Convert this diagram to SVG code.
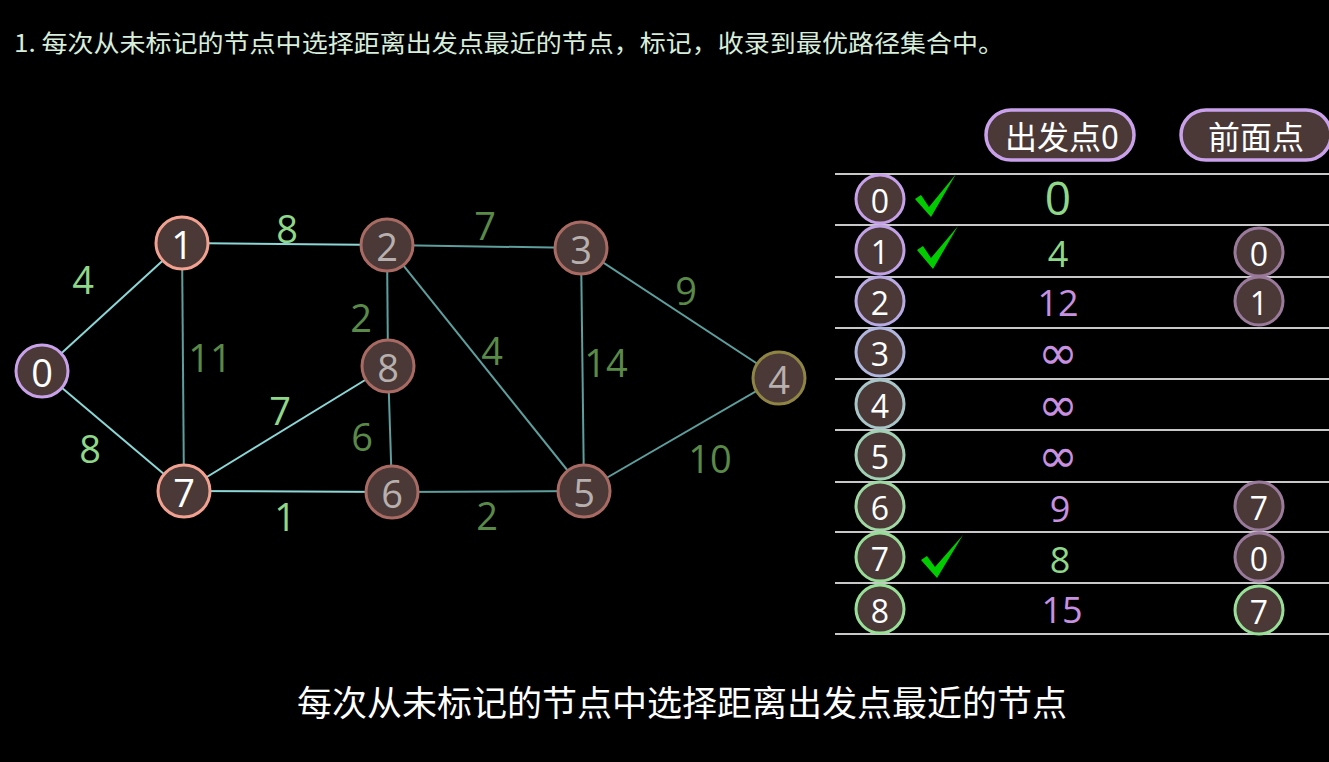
<svg xmlns="http://www.w3.org/2000/svg" width="1329" height="762" viewBox="0 0 1329 762">
<style>
.bg{fill:#000}
.n{fill:#4a3936;stroke-width:3}
.nt{font-family:"Open Sans","Noto Sans",sans-serif;font-size:38px;text-anchor:middle;dominant-baseline:central}
.w{fill:#ffffff}
.g{fill:#b8b0ae}
.e1{stroke:#8cd6d6;stroke-width:2;fill:none}
.e2{stroke:#5e9e9c;stroke-width:2;fill:none}
.lb{font-family:"Open Sans","Noto Sans",sans-serif;font-size:38px;text-anchor:middle;dominant-baseline:central}
.lg{fill:#8fd88a}
.dg{fill:#5a8a48}
.row{stroke:#c8c8c8;stroke-width:2}
.rc{fill:#4a3936;stroke-width:3}
.rt{font-family:"Open Sans","Noto Sans",sans-serif;font-size:32px;fill:#fff;text-anchor:middle;dominant-baseline:central}
.val{font-family:"Open Sans","Noto Sans",sans-serif;font-size:36px;text-anchor:middle;dominant-baseline:central}
.big{font-size:46px}
.inf{font-family:"DejaVu Sans",sans-serif;font-size:48px}
.vg{fill:#8fd88a}
.vp{fill:#c890e0}
.ck{fill:#00cc00}
.hd{font-family:"Noto Sans CJK SC","Noto Sans",sans-serif;font-size:32px;fill:#fff;text-anchor:middle;dominant-baseline:central}
</style>
<rect class="bg" x="0" y="0" width="1329" height="762"/>
<text x="14" y="52" font-family="Noto Sans CJK SC, Noto Sans, sans-serif" font-size="24" fill="#d8eedd" textLength="990" lengthAdjust="spacingAndGlyphs">1. 每次从未标记的节点中选择距离出发点最近的节点，标记，收录到最优路径集合中。</text>

<g id="connectors">
<line class="e1" x1="42" y1="371" x2="182" y2="243"/>
<line class="e1" x1="42" y1="371" x2="184" y2="491"/>
<line class="e1" x1="182" y1="243" x2="387" y2="245"/>
<line class="e2" x1="182" y1="243" x2="184" y2="491"/>
<line class="e1" x1="184" y1="491" x2="388" y2="366"/>
<line class="e1" x1="184" y1="491" x2="392" y2="492"/>
<line class="e2" x1="387" y1="245" x2="388" y2="366"/>
<line class="e2" x1="388" y1="366" x2="392" y2="492"/>
<line class="e2" x1="387" y1="245" x2="581" y2="248"/>
<line class="e2" x1="387" y1="245" x2="584" y2="491"/>
<line class="e2" x1="581" y1="248" x2="584" y2="491"/>
<line class="e2" x1="581" y1="248" x2="779" y2="378"/>
<line class="e2" x1="584" y1="491" x2="779" y2="378"/>
<line class="e2" x1="392" y1="492" x2="584" y2="491"/>
<text class="lb lg" x="83" y="279">4</text>
<text class="lb lg" x="287" y="228">8</text>
<text class="lb dg" x="210" y="357">11</text>
<text class="lb lg" x="90" y="448">8</text>
<text class="lb lg" x="280" y="410">7</text>
<text class="lb lg" x="285" y="516">1</text>
<text class="lb dg" x="361" y="317">2</text>
<text class="lb dg" x="362" y="436">6</text>
<text class="lb dg" x="485" y="225">7</text>
<text class="lb dg" x="492" y="350">4</text>
<text class="lb dg" x="606" y="362">14</text>
<text class="lb dg" x="686" y="290">9</text>
<text class="lb dg" x="710" y="458">10</text>
<text class="lb dg" x="487" y="515">2</text>
</g>

<g id="node0"><circle class="n" cx="42" cy="371" r="26" stroke="#c9a0ea"/><text class="nt w" x="42" y="372">0</text></g>
<g id="node1"><circle class="n" cx="182" cy="243" r="26" stroke="#f2a090"/><text class="nt w" x="182" y="244">1</text></g>
<g id="node2"><circle class="n" cx="387" cy="245" r="26" stroke="#a86a62"/><text class="nt g" x="387" y="246">2</text></g>
<g id="node3"><circle class="n" cx="581" cy="248" r="26" stroke="#a86a62"/><text class="nt g" x="581" y="249">3</text></g>
<g id="node4"><circle class="n" cx="779" cy="378" r="26" stroke="#8e8444"/><text class="nt g" x="779" y="379">4</text></g>
<g id="node5"><circle class="n" cx="584" cy="491" r="26" stroke="#a86a62"/><text class="nt g" x="584" y="492">5</text></g>
<g id="node6"><circle class="n" cx="392" cy="492" r="26" stroke="#a86a62"/><text class="nt g" x="392" y="493">6</text></g>
<g id="node7"><circle class="n" cx="184" cy="491" r="26" stroke="#f2a090"/><text class="nt w" x="184" y="492">7</text></g>
<g id="node8"><circle class="n" cx="388" cy="366" r="26" stroke="#a86a62"/><text class="nt g" x="388" y="367">8</text></g>

<g id="header">
<rect x="986" y="110" width="148" height="50" rx="25" fill="#4a3936" stroke="#c9a0ea" stroke-width="3.5"/>
<text class="hd" x="1062" y="135">出发点0</text>
<rect x="1181" y="110" width="150" height="50" rx="25" fill="#4a3936" stroke="#c9a0ea" stroke-width="3.5"/>
<text class="hd" x="1256" y="135">前面点</text>
</g>

<g id="table">
<line class="row" x1="835" y1="174" x2="1329" y2="174"/>
<line class="row" x1="835" y1="225" x2="1329" y2="225"/>
<line class="row" x1="835" y1="277" x2="1329" y2="277"/>
<line class="row" x1="835" y1="328" x2="1329" y2="328"/>
<line class="row" x1="835" y1="379" x2="1329" y2="379"/>
<line class="row" x1="835" y1="430" x2="1329" y2="430"/>
<line class="row" x1="835" y1="482" x2="1329" y2="482"/>
<line class="row" x1="835" y1="532" x2="1329" y2="532"/>
<line class="row" x1="835" y1="583" x2="1329" y2="583"/>
<line class="row" x1="835" y1="634" x2="1329" y2="634"/>
</g>

<g id="row0"><circle class="rc" cx="880" cy="199" r="24" stroke="#c6a0e8"/><text class="rt" x="880" y="200">0</text>
<path class="ck" d="M915,199 L921,195 L929,207 L956,174 L931,217 Z"/>
<text class="val big vg" x="1058" y="197">0</text></g>
<g id="row1"><circle class="rc" cx="880" cy="250" r="24" stroke="#c2a2e6"/><text class="rt" x="880" y="251">1</text>
<path class="ck" d="M917,250 L923,246 L931,258 L958,226 L933,269 Z"/>
<text class="val vg" x="1058" y="253">4</text>
<circle class="rc" cx="1259" cy="252" r="24" stroke="#9a7a9a"/><text class="rt" x="1259" y="253">0</text></g>
<g id="row2"><circle class="rc" cx="880" cy="301" r="24" stroke="#b8aae2"/><text class="rt" x="880" y="302">2</text>
<text class="val vp" x="1058" y="302">12</text>
<circle class="rc" cx="1259" cy="301" r="24" stroke="#9a7a9a"/><text class="rt" x="1259" y="302">1</text></g>
<g id="row3"><circle class="rc" cx="880" cy="352" r="24" stroke="#b0b6de"/><text class="rt" x="880" y="353">3</text>
<text class="val vp inf" x="1058" y="352">∞</text></g>
<g id="row4"><circle class="rc" cx="880" cy="404" r="24" stroke="#a8c6c8"/><text class="rt" x="880" y="405">4</text>
<text class="val vp inf" x="1058" y="404">∞</text></g>
<g id="row5"><circle class="rc" cx="880" cy="455" r="24" stroke="#a2d0b4"/><text class="rt" x="880" y="456">5</text>
<text class="val vp inf" x="1058" y="455">∞</text></g>
<g id="row6"><circle class="rc" cx="880" cy="506" r="24" stroke="#a0d8a4"/><text class="rt" x="880" y="507">6</text>
<text class="val vp" x="1060" y="508">9</text>
<circle class="rc" cx="1259" cy="506" r="24" stroke="#9a7a9a"/><text class="rt" x="1259" y="507">7</text></g>
<g id="row7"><circle class="rc" cx="880" cy="557" r="24" stroke="#98dc98"/><text class="rt" x="880" y="558">7</text>
<path class="ck" d="M921,560 L927,556 L935,567 L963,535 L937,578 Z"/>
<text class="val vg" x="1060" y="559">8</text>
<circle class="rc" cx="1259" cy="557" r="24" stroke="#9a7a9a"/><text class="rt" x="1259" y="558">0</text></g>
<g id="row8"><circle class="rc" cx="880" cy="609" r="24" stroke="#98e098"/><text class="rt" x="880" y="610">8</text>
<text class="val vp" x="1062" y="609">15</text>
<circle class="rc" cx="1259" cy="610" r="24" stroke="#98e098"/><text class="rt" x="1259" y="611">7</text></g>

<text x="682" y="716" font-family="Noto Sans CJK SC, Noto Sans, sans-serif" font-size="35" fill="#ffffff" text-anchor="middle">每次从未标记的节点中选择距离出发点最近的节点</text>
</svg>
